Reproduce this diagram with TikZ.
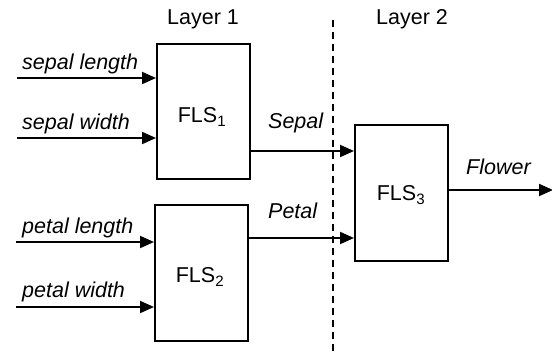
\documentclass[tikz,border=0pt]{standalone}
\usepackage{fontspec}
\setmainfont{Liberation Sans}
\usetikzlibrary{arrows.meta}
\begin{document}
\begin{tikzpicture}[x=1pt,y=-1pt,
  font=\fontsize{21.5}{26}\selectfont,
  fls/.style={draw,line width=2pt,minimum width=93pt,inner sep=0pt,anchor=north west},
  arr/.style={line width=2pt,-{Triangle[length=14pt,width=12pt]}},
  lbl/.style={font=\fontsize{21.5}{26}\selectfont\itshape,inner sep=0pt,anchor=base west},
  hdr/.style={inner sep=0pt}]
\useasboundingbox (0,0) rectangle (552,354);
\node[fls,minimum height=135pt] (f1) at (156,43) {};
\node[fls,minimum height=136pt] (f2) at (154,204) {};
\node[fls,minimum height=136pt] (f3) at (354,124) {};
\node[hdr] (t1) at (202,117) {FLS\textsubscript{1}};
\node[hdr] (t2) at (200,277) {FLS\textsubscript{2}};
\node[hdr] (t3) at (401,195) {FLS\textsubscript{3}};
\node[hdr] (L1) at (203,19) {Layer 1};
\node[hdr] (L2) at (412,19) {Layer 2};
\coordinate (i1) at (17,78);
\coordinate (i2) at (17,138);
\coordinate (i3) at (16,242);
\coordinate (i4) at (16,307);
\coordinate (o1) at (f1.east |- 0,151);
\coordinate (o2) at (f2.east |- 0,238);
\coordinate (o3) at (f3.east |- 0,190);
\coordinate (out) at (553,190);
\coordinate (dtop) at (333,20);
\coordinate (dbot) at (333,354);
\draw[line width=1.2pt,dash pattern=on 7pt off 5pt] (dtop) -- (dbot);
\draw[arr] (i1) -- (i1 -| f1.west);
\draw[arr] (i2) -- (i2 -| f1.west);
\draw[arr] (i3) -- (i3 -| f2.west);
\draw[arr] (i4) -- (i4 -| f2.west);
\draw[arr] (o1) -- (o1 -| f3.west);
\draw[arr] (o2) -- (o2 -| f3.west);
\draw[arr] (o3) -- (out);
\node[lbl] (a1) at (22,69) {sepal length};
\node[lbl] (a2) at (22,129) {sepal width};
\node[lbl] (a3) at (22,233) {petal length};
\node[lbl] (a4) at (22,297) {petal width};
\node[lbl] (s) at (268,128) {Sepal};
\node[lbl] (p) at (268,218) {Petal};
\node[lbl] (fl) at (466,174) {Flower};
\end{tikzpicture}
\end{document}
